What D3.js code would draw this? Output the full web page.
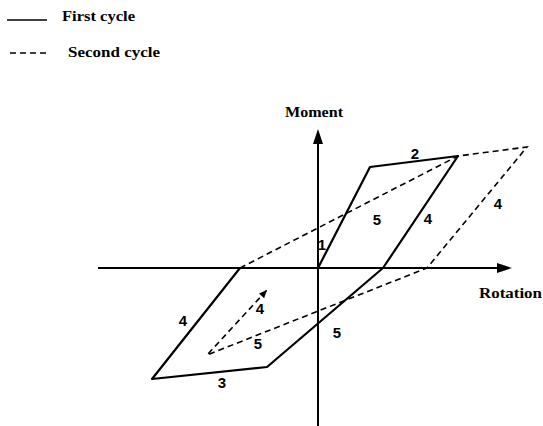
<!DOCTYPE html>
<html lang="en">
    <head>
        <meta charset="utf-8">
        <title>Moment-rotation cycles</title>
        <script type="text/javascript" src="https://cdn.jsdelivr.net/npm/d3@7"></script>
        <style type="text/css">
            body { margin: 0; background: #fff; }
            .lbl { font-family: "Liberation Serif", "Times New Roman", serif; font-weight: bold; font-size: 14px; }
            .num { font-family: "Liberation Sans", Arial, sans-serif; font-weight: bold; font-size: 15px; }
        </style>
    </head>
    <body>
        <script type="text/javascript">
            //Canvas
            var w = 543;
            var h = 426;

            //First cycle (solid) - rotation / moment pairs
            var firstRot = [0, 5.2, 14.0, 6.5, -5.1, -16.6, -7.8];
            var firstMom = [0, 10.1, 11.2, 0, -9.9, -11.1, 0];

            //Second cycle (dashed)
            var secondRot = [-7.8, 14.0, 20.9, 10.9, -11.1, -5.1];
            var secondMom = [0, 11.2, 12.1, 0, -8.7, -2.2];

            //Branch numbers
            var branchText = ["1", "2", "5", "4", "4", "4", "3", "4", "5", "5"];
            var branchRot = [0.4, 9.7, 5.9, 11.0, 18.0, -13.5, -9.6, -5.8, -6.0, 1.9];
            var branchMom = [2.4, 11.5, 4.9, 5.0, 6.5, -5.2, -11.4, -4.0, -7.5, -6.4];

            var legendText = ["First cycle", "Second cycle"];

            var svg = d3.select("body")
                        .append("svg")
                        .attr("width", w)
                        .attr("height", h);

            //Scales (origin of axes at 318,268)
            var xScale = d3.scaleLinear()
                            .domain([-22, 19.4])
                            .range([98, 512]);
            var yScale = d3.scaleLinear()
                            .domain([-15.8, 13.9])
                            .range([426, 129]);

            var zip = function(a, b) { return a.map(function(d, i) { return [d, b[i]]; }); };

            var line = d3.line()
                        .x(function(d) { return xScale(d[0]); })
                        .y(function(d) { return yScale(d[1]); });

            //Axes
            var x0 = xScale(0), y0 = yScale(0);
            svg.append("line")
                .attr("x1", xScale(-22)).attr("x2", xScale(19.4) - 6)
                .attr("y1", y0).attr("y2", y0)
                .attr("stroke", "#000").attr("stroke-width", 2);
            svg.append("line")
                .attr("x1", x0).attr("x2", x0)
                .attr("y1", yScale(-15.8)).attr("y2", yScale(13.9) + 6)
                .attr("stroke", "#000").attr("stroke-width", 2);

            //Arrow heads
            var xe = xScale(19.4), ye = yScale(13.9);
            svg.append("path")
                .attr("d", "M" + xe + "," + y0 + "L" + (xe - 15) + "," + (y0 - 5) + "L" + (xe - 15) + "," + (y0 + 5) + "Z")
                .attr("fill", "#000");
            svg.append("path")
                .attr("d", "M" + x0 + "," + ye + "L" + (x0 - 5) + "," + (ye + 15) + "L" + (x0 + 5) + "," + (ye + 15) + "Z")
                .attr("fill", "#000");

            //First cycle
            svg.append("path")
                .datum(zip(firstRot, firstMom))
                .attr("d", line)
                .attr("fill", "none")
                .attr("stroke", "#000")
                .attr("stroke-width", 2.2)
                .attr("stroke-linejoin", "round");

            //Second cycle
            var second = zip(secondRot, secondMom);
            svg.append("path")
                .datum(second)
                .attr("d", line)
                .attr("fill", "none")
                .attr("stroke", "#000")
                .attr("stroke-width", 1.6)
                .attr("stroke-dasharray", "6,4");

            //Arrowhead at end of second cycle
            var pA = second[second.length - 2], pB = second[second.length - 1];
            var ang = Math.atan2(yScale(pB[1]) - yScale(pA[1]), xScale(pB[0]) - xScale(pA[0])) * 180 / Math.PI;
            svg.append("path")
                .attr("d", "M0,0L-8,-3.5L-8,3.5Z")
                .attr("fill", "#000")
                .attr("transform", "translate(" + xScale(pB[0]) + "," + yScale(pB[1]) + ") rotate(" + ang + ")");

            //Branch numbers
            svg.selectAll("text.num")
                .data(branchText)
                .enter()
                .append("text")
                .attr("class", "num")
                .attr("x", function(d, i) { return xScale(branchRot[i]); })
                .attr("y", function(d, i) { return yScale(branchMom[i]); })
                .attr("text-anchor", "middle")
                .attr("dominant-baseline", "central")
                .text(function(d) { return d; });

            //Axis titles
            svg.append("text")
                .attr("class", "lbl")
                .attr("x", 285).attr("y", 117)
                .attr("textLength", 58).attr("lengthAdjust", "spacingAndGlyphs")
                .text("Moment");
            svg.append("text")
                .attr("class", "lbl")
                .attr("x", 479).attr("y", 298)
                .attr("textLength", 63).attr("lengthAdjust", "spacingAndGlyphs")
                .text("Rotation");

            //Legend
            svg.append("line")
                .attr("x1", 7).attr("x2", 47).attr("y1", 20).attr("y2", 20)
                .attr("stroke", "#000").attr("stroke-width", 1.3);
            svg.append("line")
                .attr("x1", 10).attr("x2", 47).attr("y1", 53).attr("y2", 53)
                .attr("stroke", "#000").attr("stroke-width", 1.3)
                .attr("stroke-dasharray", "6,4");
            svg.append("text")
                .attr("class", "lbl")
                .attr("x", 62).attr("y", 21)
                .attr("textLength", 73).attr("lengthAdjust", "spacingAndGlyphs")
                .text(legendText[0]);
            svg.append("text")
                .attr("class", "lbl")
                .attr("x", 68).attr("y", 57)
                .attr("textLength", 92).attr("lengthAdjust", "spacingAndGlyphs")
                .text(legendText[1]);
        </script>
    </body>
</html>
